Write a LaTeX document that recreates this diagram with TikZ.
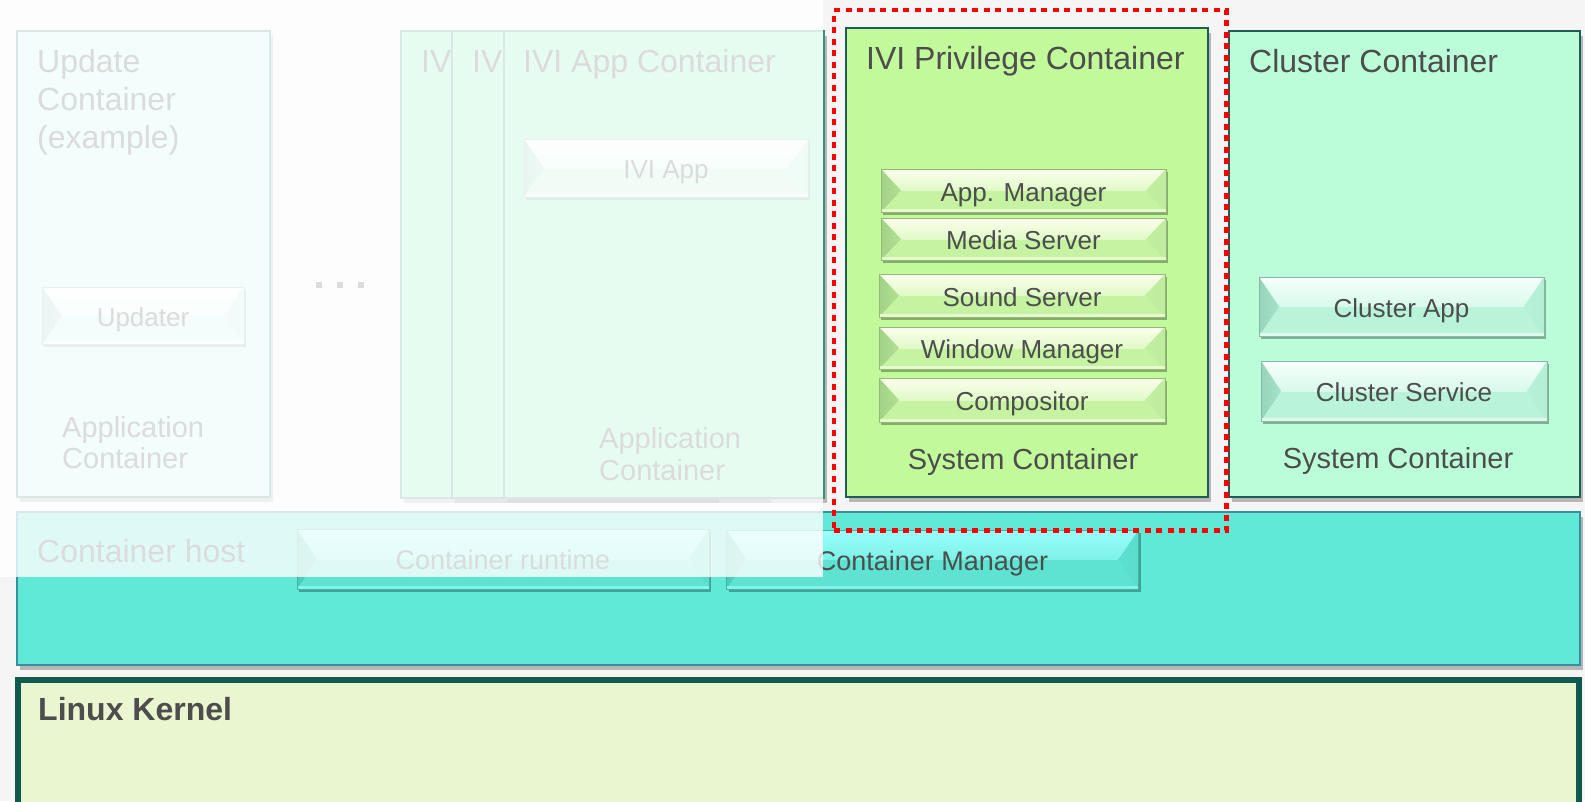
\documentclass[tikz,border=0pt]{standalone}
\usepackage{fontspec}
\setmainfont{Liberation Sans}
\usetikzlibrary{shadows,calc}
\definecolor{txt}{HTML}{4D4D4D}
\definecolor{bgc}{HTML}{F5F5F5}
\definecolor{bordc}{HTML}{1D5E55}
\definecolor{privfill}{HTML}{C2F99B}
\definecolor{clufill}{HTML}{BBFDD9}
\definecolor{hostfill}{HTML}{5FE9D6}
\definecolor{hostbord}{HTML}{3590A0}
\definecolor{kernfill}{HTML}{EAF6CF}
\definecolor{kernbord}{HTML}{115A4F}
\definecolor{updfill}{HTML}{BEF5F0}
\definecolor{ivifill}{HTML}{86F2B8}
\definecolor{fadebord}{HTML}{3C8C80}
% bevel button colours
\definecolor{gbase}{HTML}{C6F3A2}\definecolor{gtop}{HTML}{FBFFEC}\definecolor{gleft}{HTML}{A2D287}\definecolor{gright}{HTML}{C0EBA0}\definecolor{gedge}{HTML}{93B87A}
\definecolor{cbase}{HTML}{B9F3DA}\definecolor{ctop}{HTML}{F7FFFC}\definecolor{cleft}{HTML}{96D4BA}\definecolor{cright}{HTML}{B4EFD5}\definecolor{cedge}{HTML}{88B8A4}
\definecolor{tbase}{HTML}{5EE3D3}\definecolor{ttop}{HTML}{9AFFFC}\definecolor{tleft}{HTML}{4CCBBB}\definecolor{tright}{HTML}{5ADDCD}\definecolor{tedge}{HTML}{45AFA2}
\definecolor{ubase}{HTML}{CBF3F0}\definecolor{utop}{HTML}{FFFFFF}\definecolor{uleft}{HTML}{9DCBC7}\definecolor{uright}{HTML}{C3EBE7}\definecolor{uedge}{HTML}{94BDB9}
\newcommand\fsz[2]{\fontsize{#1}{#2}\selectfont}
\tikzset{
  cont/.style={draw=bordc, line width=2pt, anchor=north west, inner sep=0pt, outer sep=0pt,
    drop shadow={shadow xshift=3pt, shadow yshift=-5pt, opacity=0.25, fill=black}},
  title/.style={anchor=base west, inner sep=0pt, text=txt, font=\fsz{32}{38}},
  subtitle/.style={anchor=base, inner sep=0pt, text=txt, font=\fsz{29}{32}},
  bev/.style n args={5}{fill=#1, draw=#5, line width=0.8pt, inner sep=0pt, outer sep=0pt,
    text=txt, font=\fsz{26}{30}, text height=25pt, text depth=4pt,
    drop shadow={shadow xshift=2pt, shadow yshift=-3pt, opacity=0.3, fill=black},
    path picture={
      \shade[top color=#2, bottom color=#1] (path picture bounding box.north west) rectangle (path picture bounding box.east);
      \shade[left color=#3, right color=#3!55!#1] (path picture bounding box.north west) -- ($(path picture bounding box.west)+(20,0)$) -- (path picture bounding box.south west) -- cycle;
      \shade[left color=#4!50!#1, right color=#4] (path picture bounding box.north east) -- ($(path picture bounding box.east)+(-20,0)$) -- (path picture bounding box.south east) -- cycle;
      \fill[#2!60!#1] ($(path picture bounding box.south west)+(0,-3)$) rectangle (path picture bounding box.south east);
    }},
  gbtn/.style={bev={gbase}{gtop}{gleft}{gright}{gedge}},
  cbtn/.style={bev={cbase}{ctop}{cleft}{cright}{cedge}},
  tbtn/.style={bev={tbase}{ttop}{tleft}{tright}{tedge}, font=\fsz{27}{30}},
  ubtn/.style={bev={ubase}{utop}{uleft}{uright}{uedge}},
  hlbox/.style={draw=red, line width=4.5pt, dash pattern=on 6pt off 5.5pt, anchor=north west, inner sep=0pt, outer sep=0pt},
}
\begin{document}
\begin{tikzpicture}[x=1pt,y=-1pt]
\useasboundingbox (0,0) rectangle (1585,801);
\clip (0,0) rectangle (1585,801);
\fill[bgc] (0,0) rectangle (1585,801);

% ---------- Update container ----------
\node[cont, draw=fadebord, fill=updfill, minimum width=253pt, minimum height=466pt] (upd) at (17,31) {};
\node[title, anchor=north west, align=left] (updt) at (37,49) {Update\\Container\\(example)};
\node[ubtn, minimum width=202pt, minimum height=57pt] (updater) at (143,315.5) {Updater};
\node[anchor=north west, align=left, inner sep=0pt, text=txt, font=\fsz{29}{31.5}] (updsub) at (62,416) {Application\\Container};

% ---------- ellipsis ----------
\foreach \dx in {319,340,361}{\fill[txt] (\dx-3.2,282) rectangle (\dx+3.2,288.4);}

% ---------- IVI App containers (stack) ----------
\node[cont, draw=fadebord, fill=ivifill, minimum width=315pt, minimum height=467pt] (iv1) at (401,31) {};
\begin{scope}
  \clip (402,33) rectangle (451,100);
  \node[title] (iv1t) at (421,72) {IV};
\end{scope}
\node[cont, draw=fadebord, fill=ivifill, minimum width=316pt, minimum height=467pt] (iv2) at (452,31) {};
\begin{scope}
  \clip (453,33) rectangle (503,100);
  \node[title] (iv2t) at (472,72) {IV};
\end{scope}
\node[cont, draw=fadebord, fill=ivifill, minimum width=320pt, minimum height=467pt] (iv3) at (504,31) {};
\node[title] (iv3t) at (523,72) {IVI App Container};
\node[cbtn, minimum width=284pt, minimum height=58pt] (iviapp) at (666,168) {IVI App};
\node[anchor=north west, align=left, inner sep=0pt, text=txt, font=\fsz{29}{32}] (iv3sub) at (599,427) {Application\\Container};

% ---------- IVI Privilege container ----------
\node[cont, fill=privfill, minimum width=362pt, minimum height=469pt] (priv) at (846,28) {};
\node[title] (privt) at (866,69.3) {IVI Privilege Container};
\node[gbtn, minimum width=285pt, minimum height=43pt] (appmgr) at (1023.5,190.5) {App. Manager};
\node[gbtn, minimum width=285pt, minimum height=42pt] (media) at (1023.5,239) {Media Server};
\node[gbtn, minimum width=286pt, minimum height=43pt] (sound) at (1022,295.5) {Sound Server};
\node[gbtn, minimum width=286pt, minimum height=42pt] (winmgr) at (1022,348) {Window Manager};
\node[gbtn, minimum width=286pt, minimum height=44pt] (compo) at (1022,400) {Compositor};
\node[subtitle] (privsub) at (1023,469.5) {System Container};

% ---------- Cluster container ----------
\node[cont, fill=clufill, minimum width=351pt, minimum height=466pt] (clu) at (1229,31) {};
\node[title] (clut) at (1249,72) {Cluster Container};
\node[cbtn, minimum width=285pt, minimum height=59pt] (cluapp) at (1401.5,306.5) {Cluster App};
\node[cbtn, minimum width=286pt, minimum height=60pt] (clusvc) at (1404,391) {Cluster Service};
\node[subtitle] (clusub) at (1398,468) {System Container};

% ---------- Container host ----------
\node[cont, draw=hostbord, line width=2.5pt, fill=hostfill, minimum width=1563pt, minimum height=153pt] (host) at (17,512) {};
\node[title] (hostt) at (37,562) {Container host};
\node[tbtn, minimum width=412pt, minimum height=60pt] (runtime) at (503,559) {Container runtime};
\node[tbtn, minimum width=412pt, minimum height=59pt] (cmgr) at (932.5,559.5) {Container Manager};

% ---------- Linux kernel ----------
\node[draw=kernbord, line width=6pt, fill=kernfill, anchor=north west, inner sep=0pt, outer sep=0pt, minimum width=1561pt, minimum height=170pt] (kern) at (18,680) {};
\node[title, font=\fsz{32}{38}\bfseries] (kernt) at (38,720) {Linux Kernel};

% ---------- translucent overlay on the left ----------
\fill[white, opacity=0.8] (0,0) rectangle (823,577);

% ---------- highlight ----------
\node[hlbox, minimum width=392.5pt, minimum height=520.5pt] (hl) at (834,10) {};
\end{tikzpicture}
\end{document}
